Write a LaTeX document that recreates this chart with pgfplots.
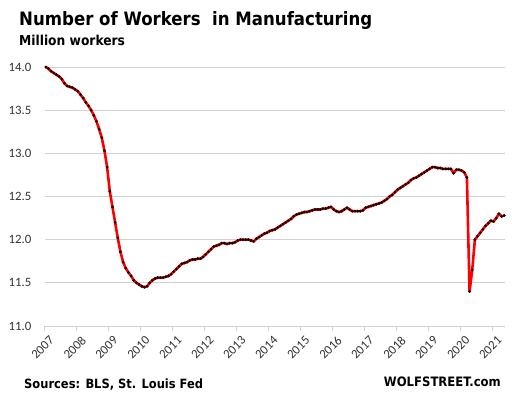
\documentclass[border=0pt]{standalone}
\usepackage{fontspec}
\IfFontExistsTF{DejaVu Sans Condensed}{\newfontfamily\tfont{DejaVu Sans Condensed}}{\newfontfamily\tfont{DejaVu Sans}}
\newfontfamily\calibri{Carlito}
\setmainfont{DejaVu Sans}
\usepackage{pgfplots}
\usepackage{pgfplotstable}
\pgfplotsset{compat=1.18}
\pgfplotstableread{
yr m v
2007 1 14.00
2007 2 13.98
2007 3 13.95
2007 4 13.93
2007 5 13.91
2007 6 13.89
2007 7 13.86
2007 8 13.81
2007 9 13.78
2007 10 13.77
2007 11 13.76
2007 12 13.74
2008 1 13.72
2008 2 13.68
2008 3 13.64
2008 4 13.59
2008 5 13.55
2008 6 13.50
2008 7 13.44
2008 8 13.37
2008 9 13.28
2008 10 13.18
2008 11 13.03
2008 12 12.84
2009 1 12.56
2009 2 12.38
2009 3 12.20
2009 4 12.02
2009 5 11.86
2009 6 11.74
2009 7 11.67
2009 8 11.62
2009 9 11.58
2009 10 11.53
2009 11 11.50
2009 12 11.48
2010 1 11.46
2010 2 11.45
2010 3 11.46
2010 4 11.50
2010 5 11.53
2010 6 11.55
2010 7 11.56
2010 8 11.56
2010 9 11.56
2010 10 11.57
2010 11 11.58
2010 12 11.60
2011 1 11.63
2011 2 11.66
2011 3 11.69
2011 4 11.72
2011 5 11.73
2011 6 11.74
2011 7 11.76
2011 8 11.77
2011 9 11.77
2011 10 11.78
2011 11 11.78
2011 12 11.80
2012 1 11.83
2012 2 11.86
2012 3 11.89
2012 4 11.92
2012 5 11.93
2012 6 11.94
2012 7 11.96
2012 8 11.96
2012 9 11.95
2012 10 11.96
2012 11 11.96
2012 12 11.97
2013 1 11.99
2013 2 12.00
2013 3 12.00
2013 4 12.00
2013 5 12.00
2013 6 11.99
2013 7 11.98
2013 8 12.01
2013 9 12.03
2013 10 12.05
2013 11 12.07
2013 12 12.08
2014 1 12.10
2014 2 12.11
2014 3 12.12
2014 4 12.14
2014 5 12.16
2014 6 12.18
2014 7 12.20
2014 8 12.22
2014 9 12.24
2014 10 12.27
2014 11 12.29
2014 12 12.30
2015 1 12.31
2015 2 12.32
2015 3 12.32
2015 4 12.33
2015 5 12.34
2015 6 12.35
2015 7 12.35
2015 8 12.35
2015 9 12.36
2015 10 12.36
2015 11 12.37
2015 12 12.38
2016 1 12.35
2016 2 12.33
2016 3 12.32
2016 4 12.33
2016 5 12.35
2016 6 12.37
2016 7 12.35
2016 8 12.33
2016 9 12.33
2016 10 12.33
2016 11 12.33
2016 12 12.34
2017 1 12.37
2017 2 12.38
2017 3 12.39
2017 4 12.40
2017 5 12.41
2017 6 12.42
2017 7 12.43
2017 8 12.45
2017 9 12.47
2017 10 12.50
2017 11 12.52
2017 12 12.55
2018 1 12.58
2018 2 12.60
2018 3 12.62
2018 4 12.64
2018 5 12.66
2018 6 12.69
2018 7 12.71
2018 8 12.72
2018 9 12.74
2018 10 12.76
2018 11 12.78
2018 12 12.80
2019 1 12.82
2019 2 12.84
2019 3 12.84
2019 4 12.83
2019 5 12.83
2019 6 12.82
2019 7 12.82
2019 8 12.82
2019 9 12.82
2019 10 12.77
2019 11 12.81
2019 12 12.81
2020 1 12.80
2020 2 12.78
2020 3 12.72
2020 4 11.40
2020 5 11.65
2020 6 12.00
2020 7 12.04
2020 8 12.08
2020 9 12.12
2020 10 12.16
2020 11 12.19
2020 12 12.22
2021 1 12.21
2021 2 12.25
2021 3 12.30
2021 4 12.27
2021 5 12.28
}\mfg
\begin{document}
\begin{tikzpicture}[x=1bp,y=1bp]
\path[use as bounding box] (0,0) rectangle (512,399);
\begin{axis}[
  at={(44.5bp,73bp)}, anchor=south west,
  scale only axis, width=460.5bp, height=259bp,
  xmin=2007, xmax=2021.4, ymin=11, ymax=14,
  clip=false,
  axis x line*=bottom, axis y line*=left,
  y axis line style={draw=none},
  x axis line style={draw=black!18, line width=0.8bp},
  ytick={11,11.5,12,12.5,13,13.5,14},
  xtick={2007,2008,2009,2010,2011,2012,2013,2014,2015,2016,2017,2018,2019,2020,2021},
  ymajorgrids, grid style={draw=black!18, line width=0.8bp},
  ytick style={draw=none},
  xtick style={draw=black!18, line width=0.8bp},
  tick align=outside, major tick length=5bp,
  /pgf/number format/assume math mode=true,
  yticklabel style={/pgf/number format/fixed, /pgf/number format/fixed zerofill, /pgf/number format/precision=1},
  xticklabel style={/pgf/number format/1000 sep={}},
  tick label style={font=\calibri\fontsize{12.8}{14}\selectfont, text=black!80},
  xticklabel style={rotate=45, anchor=north east, inner sep=1bp, yshift=-5bp, xshift=1bp},
  yticklabel style={inner sep=2bp, xshift=-6bp},
]
\addplot[color=red, line width=2.6bp, no markers, line join=round]
  table[x expr={\thisrow{yr}+(\thisrow{m}-0.5)/12}, y=v] {\mfg};
\addplot[only marks, mark=*, mark size=1.3bp, draw=black, fill=black, mark options={draw=black, fill=black, line width=0.2bp}]
  table[x expr={\thisrow{yr}+(\thisrow{m}-0.5)/12}, y=v] {\mfg};
\end{axis}
\node[anchor=base west, inner sep=0] at (19,374) {\tfont\bfseries\fontsize{18.5}{21}\selectfont Number of Workers\ \ in Manufacturing};
\node[anchor=base west, inner sep=0] at (19,353.5) {\tfont\bfseries\fontsize{13.7}{16}\selectfont Million workers};
\node[anchor=base west, inner sep=0] at (24,11) {\tfont\bfseries\fontsize{12.8}{15}\selectfont Sources: BLS, St. Louis Fed};
\node[anchor=base east, inner sep=0] at (501,13) {\tfont\bfseries\fontsize{13}{15}\selectfont WOLFSTREET.com};
\end{tikzpicture}
\end{document}
